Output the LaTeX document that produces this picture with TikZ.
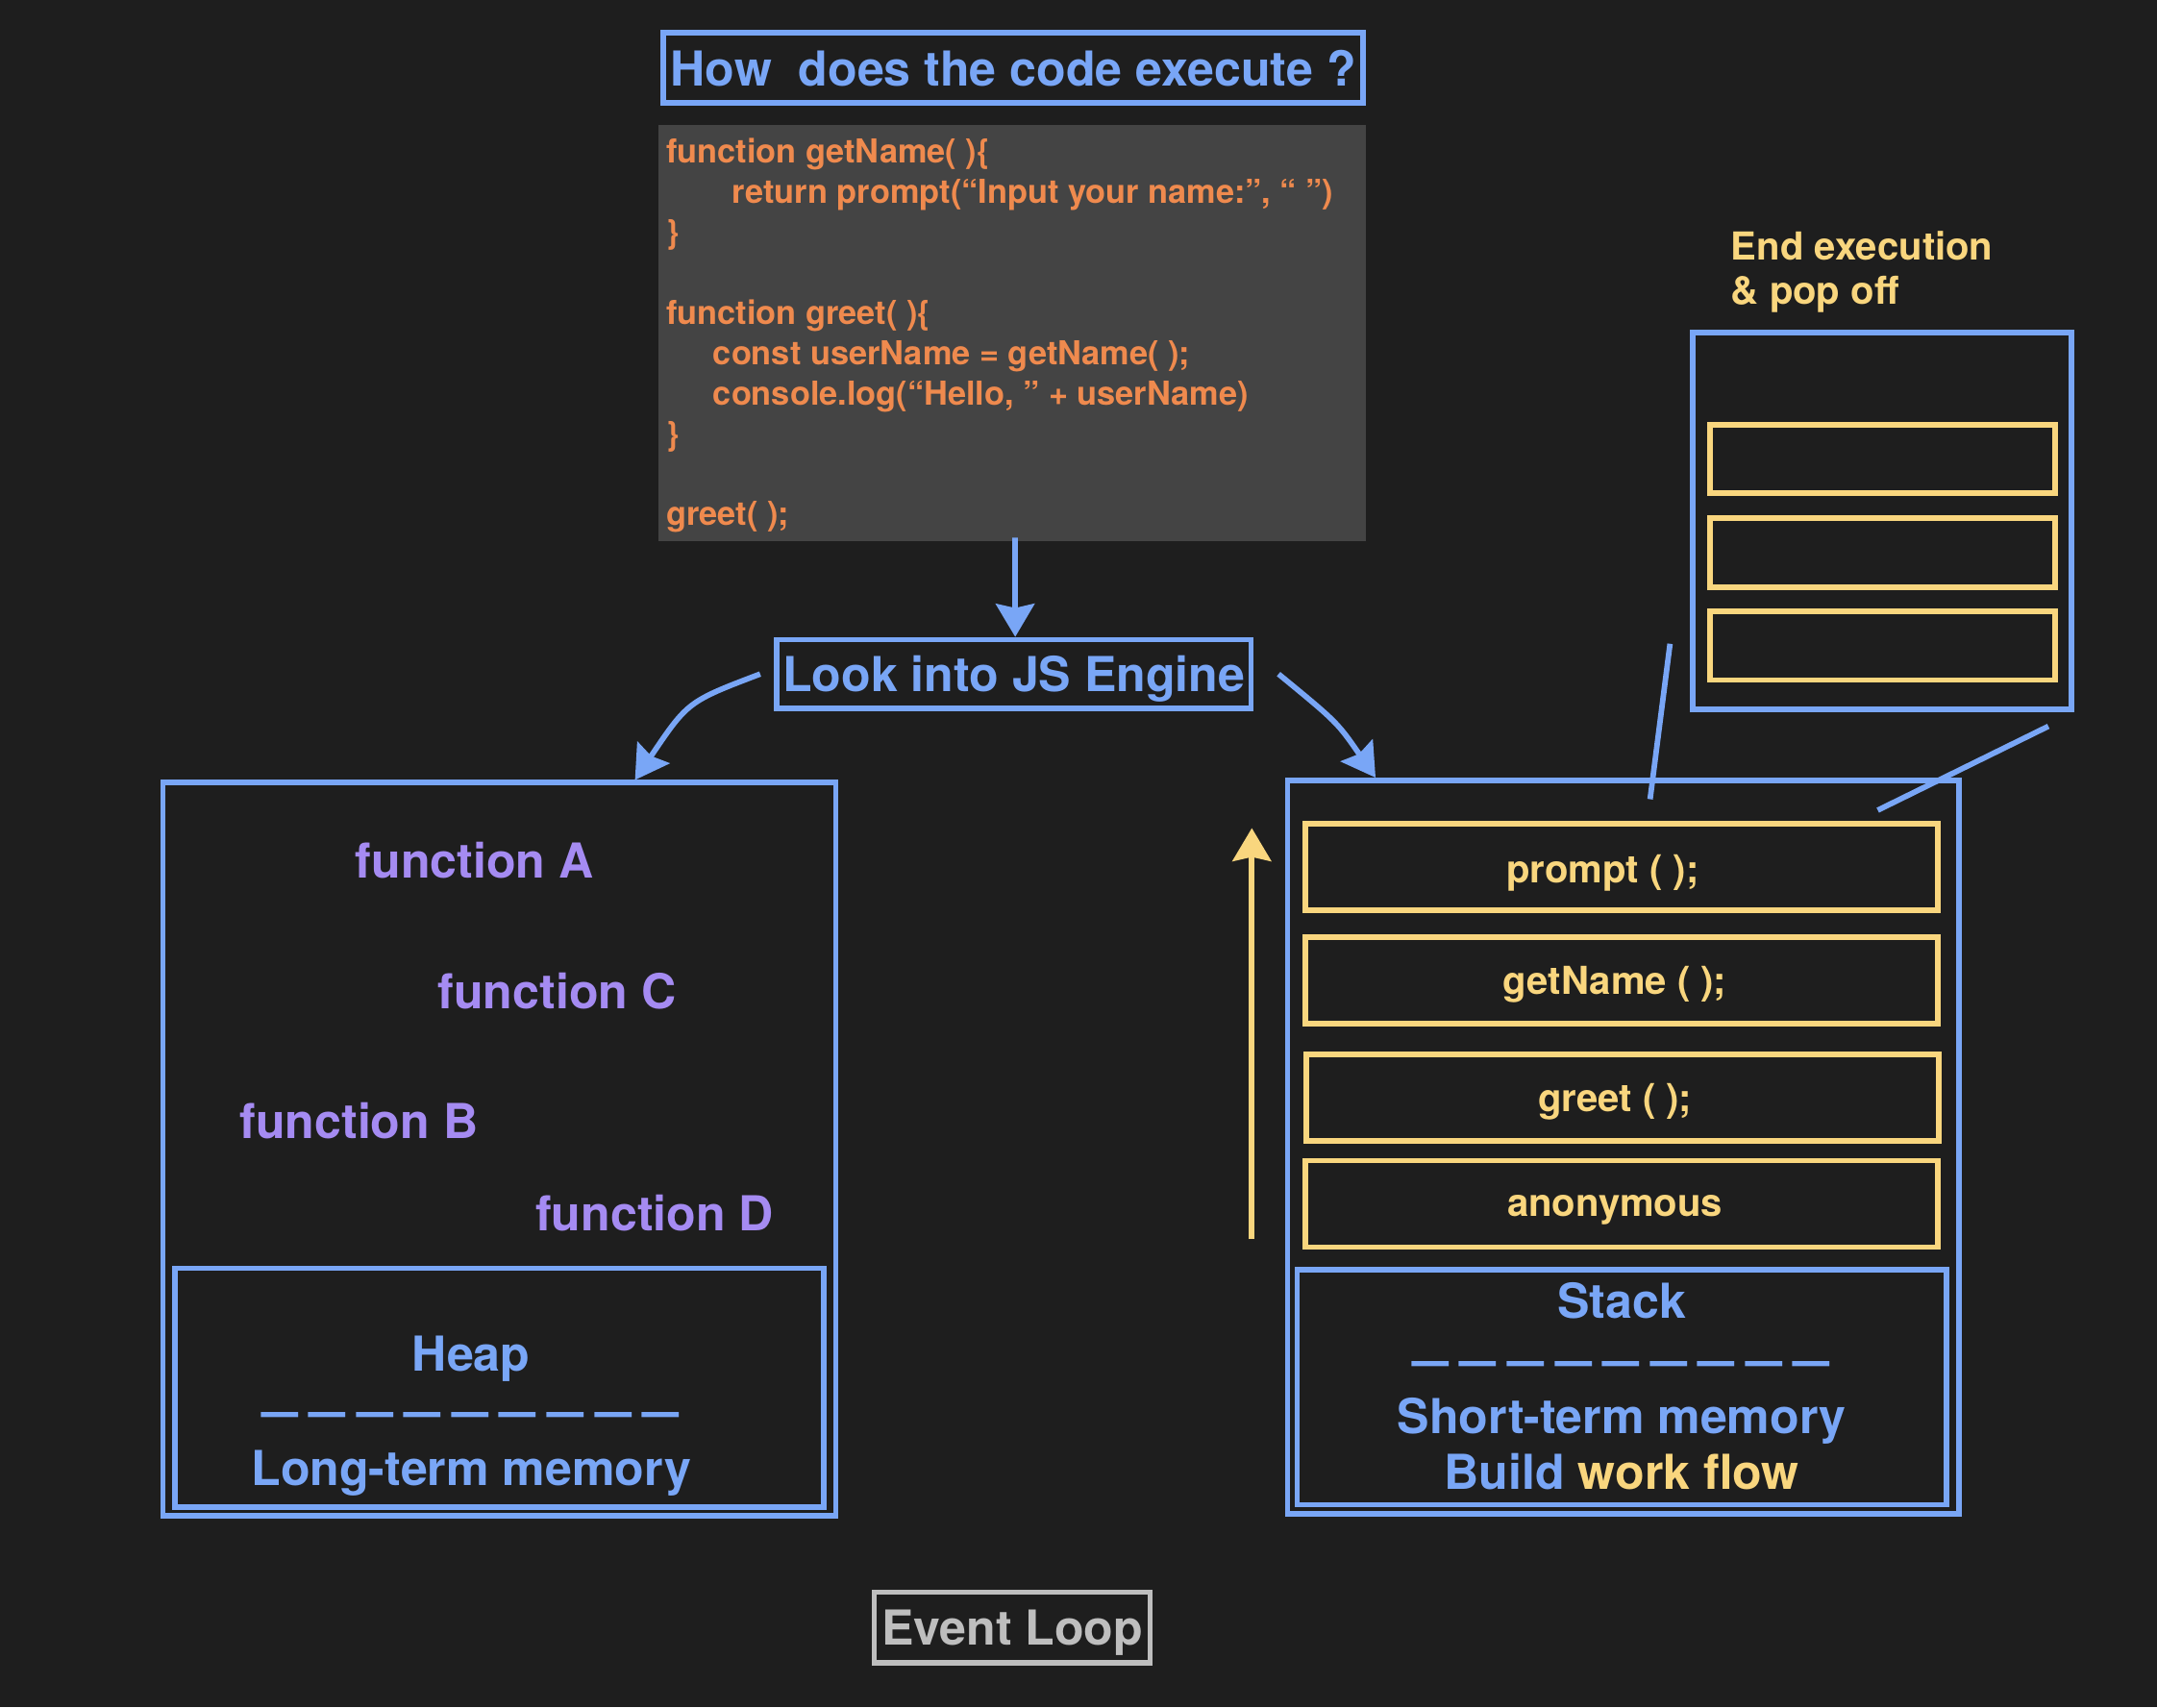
\documentclass[tikz,border=0pt]{standalone}
\usepackage{fontspec}
\setmainfont{TeX Gyre Heros}
\usetikzlibrary{arrows.meta,calc}
\definecolor{bg}{HTML}{1E1E1E}
\definecolor{jsblue}{HTML}{79A6F6}
\definecolor{jspurple}{HTML}{A58BF2}
\definecolor{jsyellow}{HTML}{F9D67E}
\definecolor{jsorange}{HTML}{EF8A4E}
\definecolor{codegray}{HTML}{444444}
\definecolor{loopgray}{HTML}{BEBEBE}
\newcommand\jsdash{\scalebox{1.33}[1]{–}}
\newcommand\jsdashes{\jsdash\hspace{4pt}\jsdash\hspace{4pt}\jsdash\hspace{4pt}\jsdash\hspace{4pt}\jsdash\hspace{4pt}\jsdash\hspace{4pt}\jsdash\hspace{4pt}\jsdash\hspace{4pt}\jsdash}
\begin{document}
\begin{tikzpicture}[x=0.5pt,y=-0.5pt,
  bigfont/.style={font=\bfseries\fontsize{17.5pt}{21pt}\selectfont},
  smallfont/.style={font=\bfseries\fontsize{14pt}{16.8pt}\selectfont},
  bluebox/.style={draw=jsblue, line width=2pt, inner sep=0pt, text=jsblue, bigfont, text depth=0pt},
  yelbox/.style={draw=jsyellow, line width=2pt, inner sep=0pt, minimum width=230pt, minimum height=31.5pt},
  smallyel/.style={draw=jsyellow, line width=2pt, inner sep=0pt, minimum width=125.5pt, minimum height=25pt},
  codeline/.style={anchor=base west, inner sep=0pt, text=jsorange, font=\bfseries\fontsize{12pt}{14.4pt}\selectfont},
  fn/.style={anchor=base west, inner sep=0pt, text=jspurple, bigfont},
  bluetext/.style={anchor=base, inner sep=0pt, text=jsblue, bigfont},
  yeltext/.style={anchor=base, inner sep=0pt, text=jsyellow, smallfont},
  dashrow/.style={anchor=base, inner sep=0pt, text=jsblue, font=\bfseries\fontsize{18pt}{18pt}\selectfont},
  arr/.style={draw=jsblue, line width=2pt, -{Stealth[length=12pt,width=14pt,inset=1.5pt]}},
  yarr/.style={draw=jsyellow, line width=2pt, -{Stealth[length=12pt,width=14pt,inset=1.5pt]}},
  blueline/.style={draw=jsblue, line width=2pt}
]
\fill[bg] (0,0) rectangle (1568,1241);
\useasboundingbox (0,0) rectangle (1568,1241);

% title and code
\node[bluebox, minimum width=254.4pt, minimum height=25.5pt] (title) at (736.6,49.5) {How~ does the code execute ?};
\node[fill=codegray, inner sep=0pt, minimum width=257.2pt, minimum height=151.4pt] (code) at (735.8,242) {};
\node[codeline] (c1) at (484,118.5) {function getName( )\{};
\node[codeline] (c2) at (532,147.8) {return prompt(“Input your name:”, “ ”)};
\node[codeline] (c3) at (484,177.1) {\}};
\node[codeline] (c4) at (484,235.7) {function greet( )\{};
\node[codeline] (c5) at (518,265) {const userName = getName( );};
\node[codeline] (c6) at (518,294.3) {console.log(“Hello, ” + userName)};
\node[codeline] (c7) at (484,323.6) {\}};
\node[codeline] (c8) at (484,382.2) {greet( );};

% engine
\node[bluebox, minimum width=172.4pt, minimum height=25pt] (engine) at (737,490) {Look into JS Engine};
\draw[arr] ($(code.south)+(2,-3)$) -- ($(engine.north)+(1,0)$);

% heap
\node[draw=jsblue, line width=2pt, inner sep=0pt, minimum width=244.5pt, minimum height=266.5pt] (heap) at (363,835.5) {};
\node[draw=jsblue, line width=2pt, inner sep=0pt, minimum width=236pt, minimum height=86.8pt] (heapin) at (363,1008.8) {};
\node[fn] (fa) at (258,638.5) {function A};
\node[fn] (fc) at (318,733) {function C};
\node[fn] (fb) at (174,828) {function B};
\node[fn] (fd) at (389,895) {function D};
\node[bluetext] (heapt) at (342.5,997) {Heap};
\node[dashrow] (heapdash) at (342,1038) {\jsdashes};
\node[bluetext] (longt) at (342.5,1080) {Long-term memory};

% stack
\node[draw=jsblue, line width=2pt, inner sep=0pt, minimum width=244pt, minimum height=266.7pt] (stack) at (1180,834) {};
\node[draw=jsblue, line width=2pt, inner sep=0pt, minimum width=236pt, minimum height=85.4pt] (stackin) at (1179,1008.4) {};
\node[yelbox] (sprompt) at (1178.75,630.25) {};
\node[yelbox] (sget) at (1178.75,712.75) {};
\node[yelbox] (sgreet) at (1179.5,798) {};
\node[yelbox] (sanon) at (1178.75,875.2) {};
\node[yeltext] (tprompt) at (1165,642) {prompt ( );};
\node[yeltext] (tget) at (1174,723) {getName ( );};
\node[yeltext] (tgreet) at (1174,808) {greet ( );};
\node[yeltext] (tanon) at (1174,884) {anonymous};
\node[bluetext] (stackt) at (1179,958) {Stack};
\node[dashrow] (stackdash) at (1178.5,1001) {\jsdashes};
\node[bluetext] (shortt) at (1179,1042) {Short-term memory};
\node[bluetext] (buildt) at (1179,1083) {Build \textcolor{jsyellow}{work flow}};

% curved arrows from engine
\draw[arr] ($(engine.west)+(-10,0)$) .. controls (500,510) .. ($(heap.north west)!0.70!(heap.north east)$);
\draw[arr] ($(engine.east)+(18,0)$) .. controls (972,525) .. ($(stack.north west)!0.134!(stack.north east)$);

% yellow arrow
\coordinate (ya) at (910,901);
\coordinate (yb) at (910,602);
\draw[yarr] (ya) -- (yb);

% popped frames
\node[draw=jsblue, line width=2pt, inner sep=0pt, minimum width=137.75pt, minimum height=137.1pt] (popbox) at (1368,378.7) {};
\node[smallyel] (p1) at (1368.5,333.6) {};
\node[smallyel] (p2) at (1368.5,401.75) {};
\node[smallyel] (p3) at (1368.5,469.3) {};
\node[anchor=base west, inner sep=0pt, text=jsyellow, smallfont] (end1) at (1258,188.7) {End execution};
\node[anchor=base west, inner sep=0pt, text=jsyellow, smallfont] (end2) at (1258,221.5) {\& pop off};
\coordinate (l1a) at (1214,468);
\coordinate (l1b) at (1199.5,581);
\coordinate (l2a) at (1489,528);
\coordinate (l2b) at (1365,589);
\draw[blueline] (l1a) -- (l1b);
\draw[blueline] (l2a) -- (l2b);

% event loop
\node[draw=loopgray, line width=2pt, inner sep=0pt, text=loopgray, bigfont, text depth=0pt, minimum width=100.2pt, minimum height=25.8pt] (loop) at (735.8,1183.2) {Event Loop};
\end{tikzpicture}
\end{document}
